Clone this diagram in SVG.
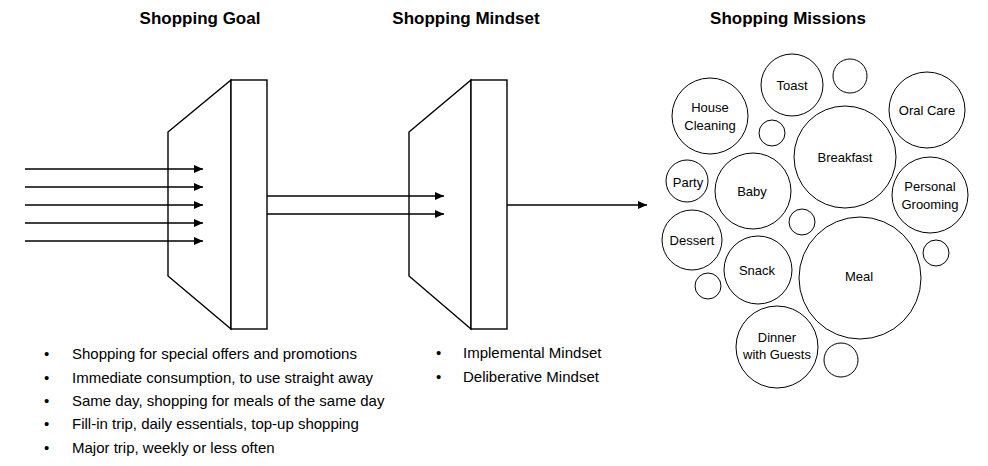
<svg xmlns="http://www.w3.org/2000/svg" width="988" height="466" viewBox="0 0 988 466">
<style>
.t{font-family:"Liberation Sans",Arial,sans-serif;font-weight:bold;font-size:17px;fill:#000;text-anchor:middle}
.b{font-family:"Liberation Sans",Arial,sans-serif;font-size:15px;fill:#000}
.c{font-family:"Liberation Sans",Arial,sans-serif;font-size:13px;fill:#000;text-anchor:middle}
.sh{fill:#fff;stroke:#000;stroke-width:1.4}
.ci{fill:#fff;stroke:#000;stroke-width:1}
.ar{stroke:#000;stroke-width:1.6;fill:none;marker-end:url(#ah)}
</style>
<defs>
<marker id="ah" markerWidth="9" markerHeight="8" refX="9" refY="4" orient="auto" markerUnits="userSpaceOnUse">
<path d="M0,0 L9,4 L0,8 Z" fill="#000"/>
</marker>
</defs>
<rect width="988" height="466" fill="#fff"/>
<text class="t" x="200" y="24">Shopping Goal</text>
<text class="t" x="466" y="24">Shopping Mindset</text>
<text class="t" x="788" y="24">Shopping Missions</text>
<g id="goal">
<polygon class="sh" points="168,132 231,80 231,329 168,276"/>
<rect class="sh" x="231" y="80" width="36" height="249"/>
</g>
<g id="mindset">
<polygon class="sh" points="409,132 471,80 471,329 409,276"/>
<rect class="sh" x="471" y="80" width="36" height="249"/>
</g>
<g id="connectors">
<line class="ar" x1="25" y1="169" x2="203" y2="169"/>
<line class="ar" x1="25" y1="187" x2="203" y2="187"/>
<line class="ar" x1="25" y1="205" x2="203" y2="205"/>
<line class="ar" x1="25" y1="223" x2="203" y2="223"/>
<line class="ar" x1="25" y1="241" x2="203" y2="241"/>
<line class="ar" x1="267" y1="196" x2="444" y2="196"/>
<line class="ar" x1="267" y1="214" x2="444" y2="214"/>
<line class="ar" x1="507" y1="205" x2="647" y2="205"/>
</g>
<g id="goal-list">
<text class="b" x="44" y="359">•</text><text class="b" x="72" y="359">Shopping for special offers and promotions</text>
<text class="b" x="44" y="383">•</text><text class="b" x="72" y="383">Immediate consumption, to use straight away</text>
<text class="b" x="44" y="406">•</text><text class="b" x="72" y="406">Same day, shopping for meals of the same day</text>
<text class="b" x="44" y="429">•</text><text class="b" x="72" y="429">Fill-in trip, daily essentials, top-up shopping</text>
<text class="b" x="44" y="453">•</text><text class="b" x="72" y="453">Major trip, weekly or less often</text>
</g>
<g id="mindset-list">
<text class="b" x="436" y="358">•</text><text class="b" x="463" y="358">Implemental Mindset</text>
<text class="b" x="436" y="382">•</text><text class="b" x="463" y="382">Deliberative Mindset</text>
</g>
<g id="toast"><circle class="ci" cx="792" cy="85" r="31"/><text class="c" x="792" y="90">Toast</text></g>
<g id="s1"><circle class="ci" cx="850" cy="76" r="17"/></g>
<g id="house"><circle class="ci" cx="710" cy="116" r="38"/><text class="c" x="710" y="112">House</text><text class="c" x="710" y="130">Cleaning</text></g>
<g id="oral"><circle class="ci" cx="927" cy="110" r="38"/><text class="c" x="927" y="115">Oral Care</text></g>
<g id="s2"><circle class="ci" cx="772" cy="133" r="13"/></g>
<g id="breakfast"><circle class="ci" cx="845" cy="157" r="51"/><text class="c" x="845" y="162">Breakfast</text></g>
<g id="party"><circle class="ci" cx="687" cy="181" r="21"/><text class="c" x="688" y="187">Party</text></g>
<g id="baby"><circle class="ci" cx="753" cy="191" r="38"/><text class="c" x="752" y="196">Baby</text></g>
<g id="grooming"><circle class="ci" cx="930" cy="195" r="38"/><text class="c" x="930" y="191">Personal</text><text class="c" x="930" y="209">Grooming</text></g>
<g id="s3"><circle class="ci" cx="802" cy="222" r="13"/></g>
<g id="dessert"><circle class="ci" cx="692" cy="240" r="30"/><text class="c" x="692" y="245">Dessert</text></g>
<g id="snack"><circle class="ci" cx="758" cy="270" r="34"/><text class="c" x="757" y="275">Snack</text></g>
<g id="meal"><circle class="ci" cx="860" cy="278" r="61"/><text class="c" x="859" y="281">Meal</text></g>
<g id="s4"><circle class="ci" cx="936" cy="253" r="13"/></g>
<g id="s5"><circle class="ci" cx="708" cy="286" r="13"/></g>
<g id="dinner"><circle class="ci" cx="777" cy="347" r="41"/><text class="c" x="777" y="342">Dinner</text><text class="c" x="777" y="359">with Guests</text></g>
<g id="s6"><circle class="ci" cx="841" cy="360" r="17"/></g>
</svg>
